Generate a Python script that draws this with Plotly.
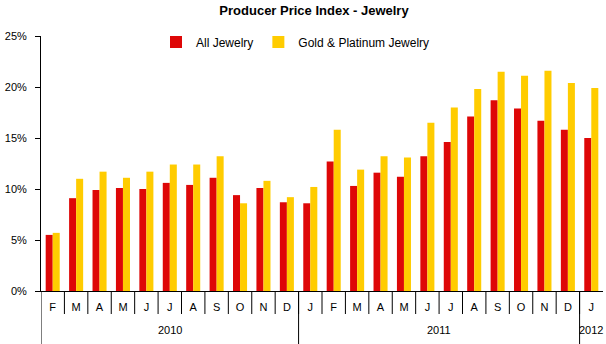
import plotly.graph_objects as go

months = ["F","M","A","M","J","J","A","S","O","N","D",
          "J","F","M","A","M","J","J","A","S","O","N","D",
          "J"]
years = ["2010", "2011", "2012"]
year_counts = [11, 12, 1]
y_ticks = [0, 5, 10, 15, 20, 25]
all_jewelry = [5.5, 9.1, 9.9, 10.1, 10.0, 10.6, 10.4, 11.1, 9.4, 10.1, 8.7,
               8.6, 12.7, 10.3, 11.6, 11.2, 13.2, 14.6, 17.1, 18.7, 17.9, 16.7, 15.8,
               15.0]
gold_platinum = [5.7, 11.0, 11.7, 11.1, 11.7, 12.4, 12.4, 13.2, 8.6, 10.8, 9.2,
                 10.2, 15.8, 11.9, 13.2, 13.1, 16.5, 18.0, 19.8, 21.5, 21.1, 21.6, 20.4,
                 19.9]

FONT = "Liberation Sans, Arial, sans-serif"
x = list(range(len(months)))

fig = go.Figure()
fig.add_trace(go.Bar(x=x, y=all_jewelry, name="All Jewelry", marker_color="#DE0707",
                     marker_line_width=0))
fig.add_trace(go.Bar(x=x, y=gold_platinum, name="Gold & Platinum Jewelry",
                     marker_color="#FFCC00", marker_line_width=0))

shapes = []
# month boundary ticks
for i in range(1, len(months)):
    shapes.append(dict(type="line", xref="x", yref="paper", x0=i - 0.5, x1=i - 0.5,
                       y0=0, y1=-23 / 255, line=dict(color="black", width=1)))
# year dividers and year labels
annotations = []
start = 0
for yr, cnt in zip(years, year_counts):
    shapes.append(dict(type="line", xref="x", yref="paper", x0=start - 0.5, x1=start - 0.5,
                       y0=0, y1=-60 / 255, line=dict(color="black", width=1)))
    annotations.append(dict(text=yr, xref="x", yref="paper", x=start + (cnt - 1) / 2,
                            y=-39 / 255, showarrow=False, xanchor="center", yanchor="middle",
                            font=dict(family=FONT, size=11, color="black")))
    start += cnt

fig.update_layout(
    width=606, height=344,
    margin=dict(l=41, r=3, t=36, b=53),
    paper_bgcolor="white", plot_bgcolor="white",
    barmode="group", bargap=0.40, bargroupgap=0,
    title=dict(text="<b>Producer Price Index - Jewelry</b>", x=314 / 606, xanchor="center",
               y=1 - 10 / 344, yanchor="middle",
               font=dict(family=FONT, size=13, color="black")),
    legend=dict(orientation="h", x=(156 - 41) / 562, xanchor="left", y=(291 - 42) / 255,
                yanchor="middle", font=dict(family=FONT, size=12, color="black"),
                bgcolor="rgba(0,0,0,0)", traceorder="normal"),
    font=dict(family=FONT, size=11, color="black"),
    shapes=shapes,
    annotations=annotations,
)
fig.update_xaxes(range=[-0.5, len(months) - 0.5], tickmode="array", tickvals=x, ticktext=months,
                 ticks="", showline=True, linecolor="black", linewidth=1, showgrid=False,
                 zeroline=False, tickfont=dict(family=FONT, size=11, color="black"),
                 ticklabelstandoff=6, fixedrange=True)
fig.update_yaxes(range=[0, 25], tickmode="array", tickvals=y_ticks,
                 ticktext=[f"{v}%" for v in y_ticks], ticks="outside", ticklen=5,
                 tickcolor="black", showline=True, linecolor="black", linewidth=1,
                 showgrid=False, zeroline=False,
                 tickfont=dict(family=FONT, size=11, color="black"), ticklabelstandoff=6)

fig.write_html("out.html")
